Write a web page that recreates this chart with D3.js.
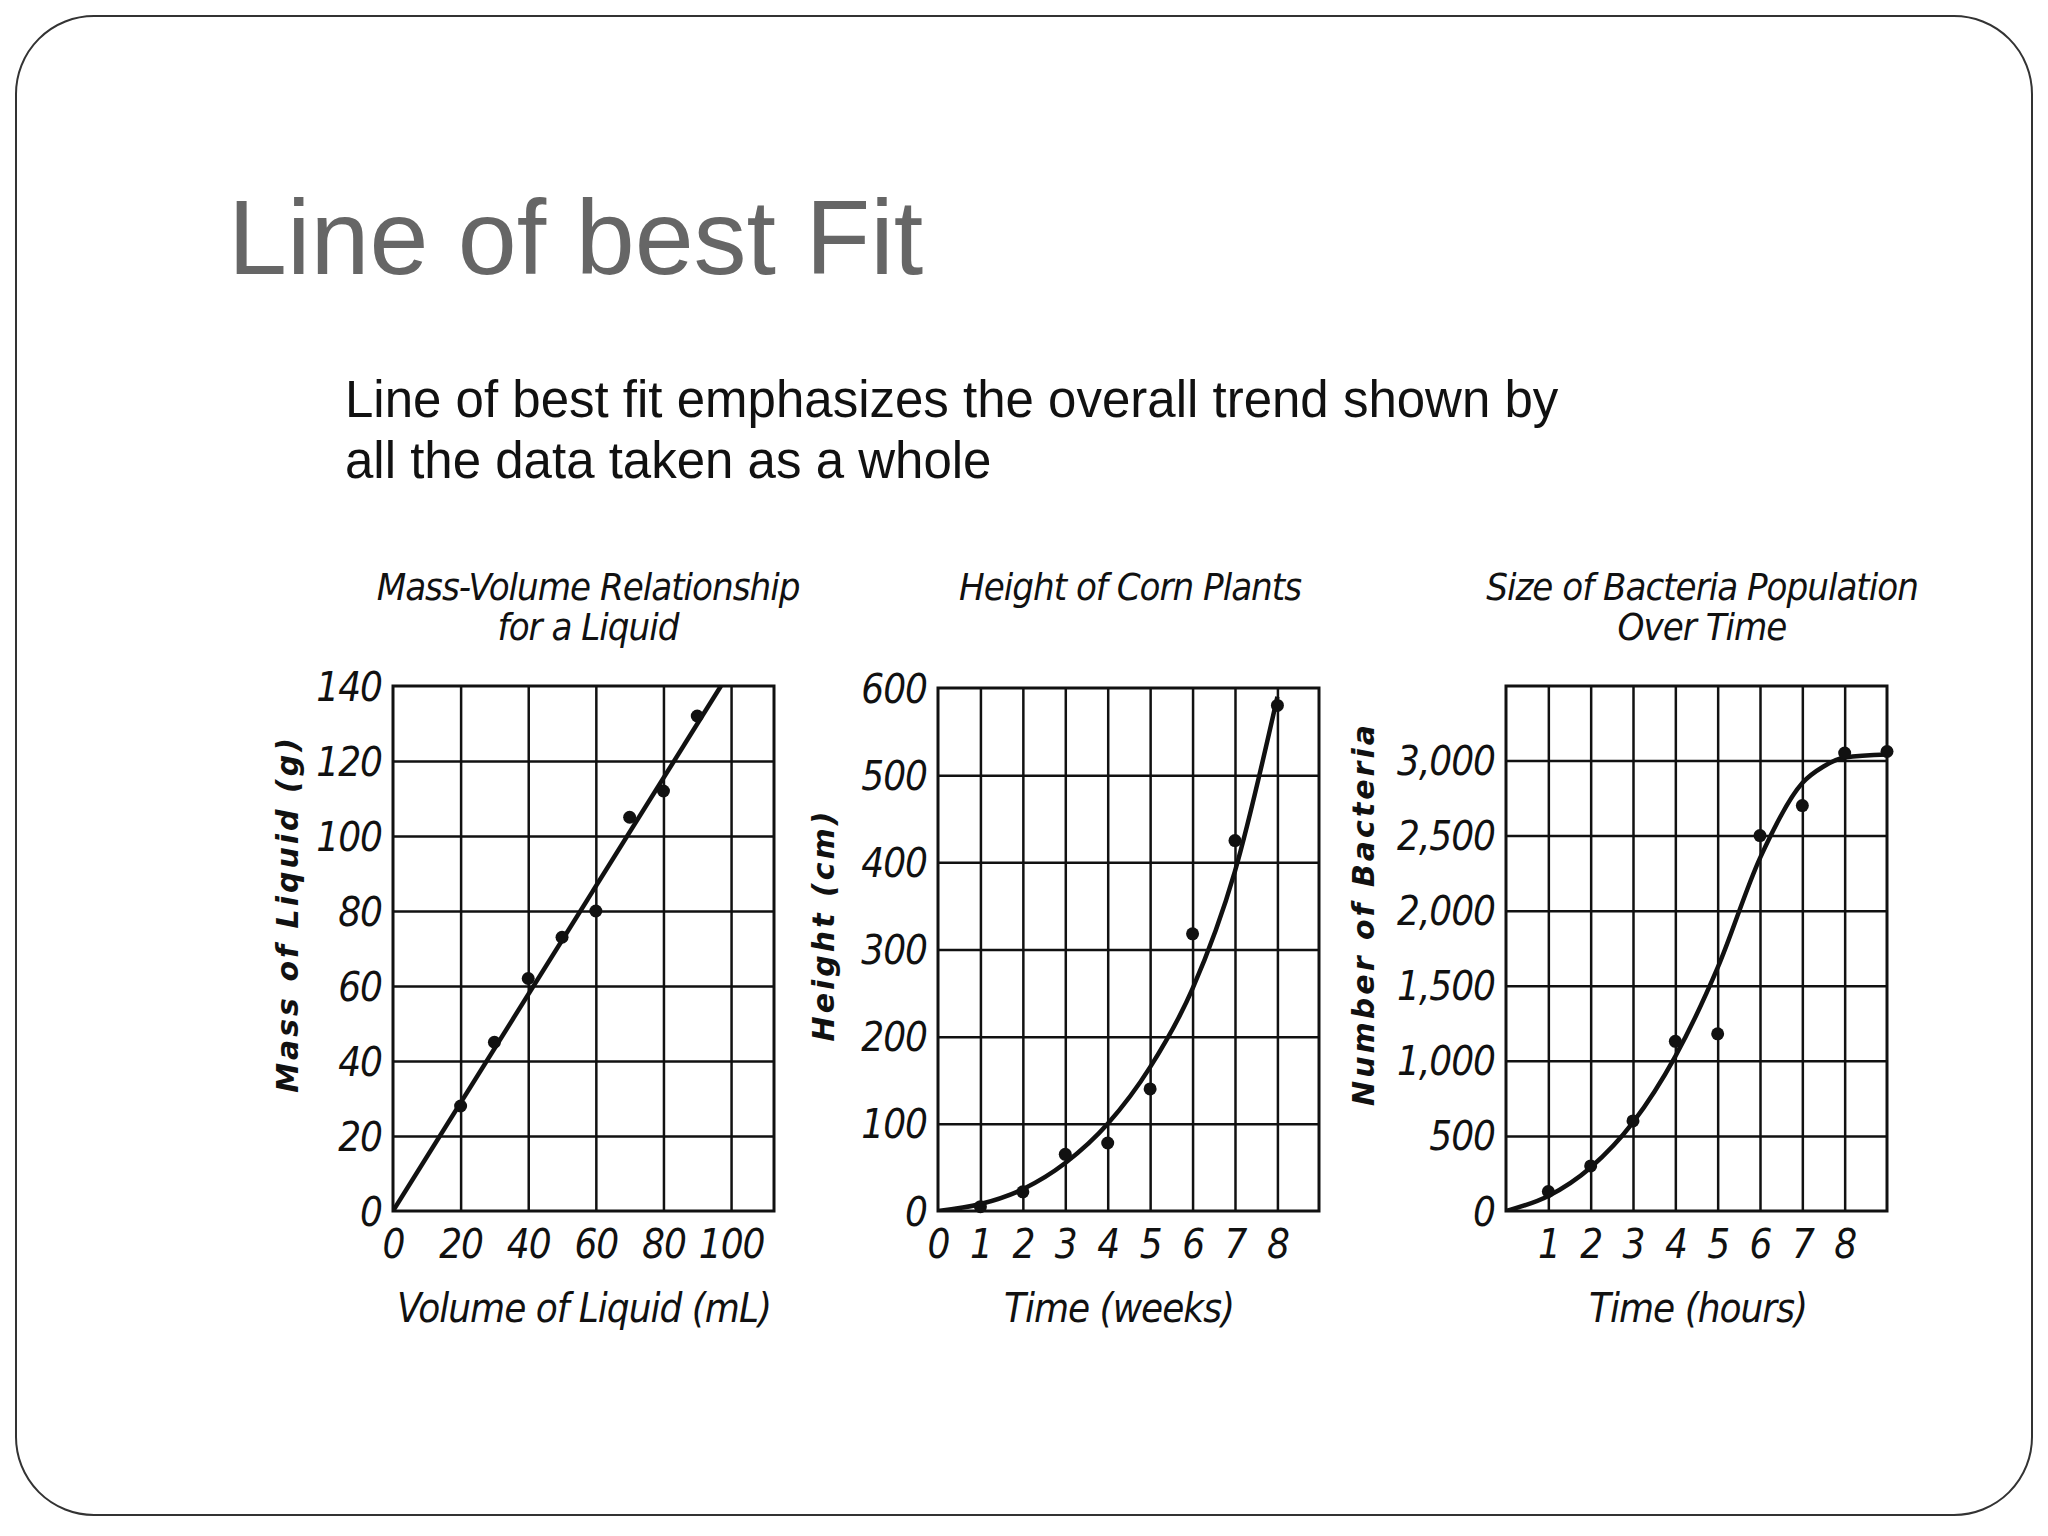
<!DOCTYPE html>
<html><head><meta charset="utf-8">
<script src="https://cdn.jsdelivr.net/npm/d3@7"></script>
<style>body{margin:0;background:#fff}</style></head>
<body><svg id="c" width="2048" height="1536"></svg>
<script>
// Chart 1: Mass-Volume
const volume = [20,30,40,50,60,70,80,90];
const mass = [28,45,62,73,80,105,112,132];
const massFitX = [0,97];
const massFitY = [0,140];
const volTicks = [0,20,40,60,80,100];
const massTicks = [0,20,40,60,80,100,120,140];
// Chart 2: Corn height
const weeks = [1,2,3,4,5,6,7,8];
const height = [5,22,65,78,140,318,425,580];
const heightFitX = [0,1,2,3,4,5,6,7,8];
const heightFitY = [0,8,25,55,100,165,255,390,590];
const weekTicks = [0,1,2,3,4,5,6,7,8];
const heightTicks = [0,100,200,300,400,500,600];
// Chart 3: Bacteria
const hours = [1,2,3,4,5,6,7,8,9];
const bacteria = [130,300,600,1130,1180,2500,2700,3050,3060];
const bactFitX = [0,1,2,3,4,5,6,7,7.5,8,9];
const bactFitY = [0,100,290,590,1030,1620,2350,2850,2960,3020,3040];
const hourTicks = [1,2,3,4,5,6,7,8];
const bactTicks = [0,500,1000,1500,2000,2500,3000];

const svg = d3.select("#c");
svg.append("rect").attr("x",16).attr("y",16).attr("width",2016).attr("height",1499)
  .attr("rx",78).attr("fill","#fff").attr("stroke","#333").attr("stroke-width",2);
svg.append("text").attr("x",228).attr("y",274).attr("font-family","Liberation Sans, Arial")
  .attr("font-size",106).attr("fill","#666").text("Line of best Fit");
["Line of best fit emphasizes the overall trend shown by","all the data taken as a whole"].forEach((t,i)=>
  svg.append("text").attr("x",345).attr("y",417+i*61).attr("font-family","Liberation Sans, Arial")
   .attr("font-size",51).attr("fill","#111").text(t));

const cf = "DejaVu Sans Condensed, Liberation Sans, Arial";
function chart(o){
  const g = svg.append("g");
  const x = d3.scaleLinear().domain(o.xd).range([o.l,o.r]);
  const y = d3.scaleLinear().domain(o.yd).range([o.b,o.t]);
  g.append("g").attr("transform",`translate(0,${o.b})`)
   .call(d3.axisBottom(x).tickValues(o.xg).tickSize(-(o.b-o.t)).tickFormat(""))
   .call(s=>{s.select(".domain").remove();s.selectAll("line").attr("stroke","#111").attr("stroke-width",2.5);});
  g.append("g").attr("transform",`translate(${o.l},0)`)
   .call(d3.axisLeft(y).tickValues(o.yg).tickSize(-(o.r-o.l)).tickFormat(""))
   .call(s=>{s.select(".domain").remove();s.selectAll("line").attr("stroke","#111").attr("stroke-width",2.5);});
  g.append("rect").attr("x",o.l).attr("y",o.t).attr("width",o.r-o.l).attr("height",o.b-o.t)
   .attr("fill","none").attr("stroke","#111").attr("stroke-width",3);
  g.append("g").attr("transform",`translate(0,${o.b+14})`)
   .call(d3.axisBottom(x).tickValues(o.xt).tickSize(0).tickFormat(o.xf||d3.format("d")))
   .call(s=>{s.select(".domain").remove();s.selectAll("text").attr("font-family",cf).attr("font-style","italic")
     .attr("font-size",40).attr("letter-spacing",-1).attr("fill","#111").attr("dy","0.75em");});
  g.append("g").attr("transform",`translate(${o.l-8},0)`)
   .call(d3.axisLeft(y).tickValues(o.yt).tickSize(0).tickFormat(o.yf||d3.format("d")))
   .call(s=>{s.select(".domain").remove();s.selectAll("text").attr("font-family",cf).attr("font-style","italic")
     .attr("font-size",40).attr("letter-spacing",-1).attr("fill","#111").attr("dy","0.35em");});
  const defs = svg.append("defs");
  const cid = "clip"+o.l;
  defs.append("clipPath").attr("id",cid).append("rect").attr("x",o.l).attr("y",o.t-4).attr("width",o.r-o.l+4).attr("height",o.b-o.t+4);
  const line = d3.line().x(d=>x(d[0])).y(d=>y(d[1])).curve(o.lin?d3.curveLinear:d3.curveMonotoneX);
  g.append("path").attr("clip-path",`url(#${cid})`).datum(o.fx.map((v,i)=>[v,o.fy[i]])).attr("d",line)
   .attr("fill","none").attr("stroke","#111").attr("stroke-width",4.5);
  g.selectAll("circle.p").data(o.px.map((v,i)=>[v,o.py[i]])).join("circle")
   .attr("cx",d=>x(d[0])).attr("cy",d=>y(d[1])).attr("r",6.5).attr("fill","#111");
  o.title.forEach((t,i)=>g.append("text").attr("x",o.tx).attr("y",600+i*40).attr("text-anchor","middle")
    .attr("font-family",cf).attr("font-style","italic").attr("font-size",38).attr("letter-spacing",-1).attr("fill","#111").text(t));
  g.append("text").attr("x",o.xlx).attr("y",1322).attr("text-anchor","middle")
    .attr("font-family",cf).attr("font-style","italic").attr("font-size",40).attr("letter-spacing",-1).attr("fill","#111").text(o.xl);
  g.append("text").attr("transform",`translate(${o.ylx},${o.yly}) rotate(-90)`).attr("text-anchor","middle")
    .attr("font-family","DejaVu Sans, Verdana").attr("font-style","italic").attr("font-weight","bold")
    .attr("font-size",30).attr("letter-spacing",3).attr("fill","#111").text(o.yl);
}
const comma = d3.format(",");
chart({l:393,r:774,t:686,b:1211,xd:[0,112.7],yd:[0,140],xg:[20,40,60,80,100],yg:[20,40,60,80,100,120],
  xt:volTicks,yt:massTicks,px:volume,py:mass,fx:massFitX,fy:massFitY,lin:true,
  title:["Mass-Volume Relationship","for a Liquid"],tx:588,xl:"Volume of Liquid (mL)",xlx:584,
  yl:"Mass of Liquid (g)",ylx:298,yly:914});
chart({l:938,r:1319,t:688,b:1211,xd:[0,8.98],yd:[0,600],xg:[1,2,3,4,5,6,7,8],yg:[100,200,300,400,500],
  xt:weekTicks,yt:heightTicks,px:weeks,py:height,fx:heightFitX,fy:heightFitY,
  title:["Height of Corn Plants"],tx:1130,xl:"Time (weeks)",xlx:1119,
  yl:"Height (cm)",ylx:834,yly:925});
chart({l:1506,r:1887,t:686,b:1211,xd:[0,9],yd:[0,3496],xg:[1,2,3,4,5,6,7,8],yg:[500,1000,1500,2000,2500,3000],
  xt:hourTicks,yt:bactTicks,yf:comma,px:hours,py:bacteria,fx:bactFitX,fy:bactFitY,
  title:["Size of Bacteria Population","Over Time"],tx:1702,xl:"Time (hours)",xlx:1698,
  yl:"Number of Bacteria",ylx:1374,yly:914});
</script></body></html>
